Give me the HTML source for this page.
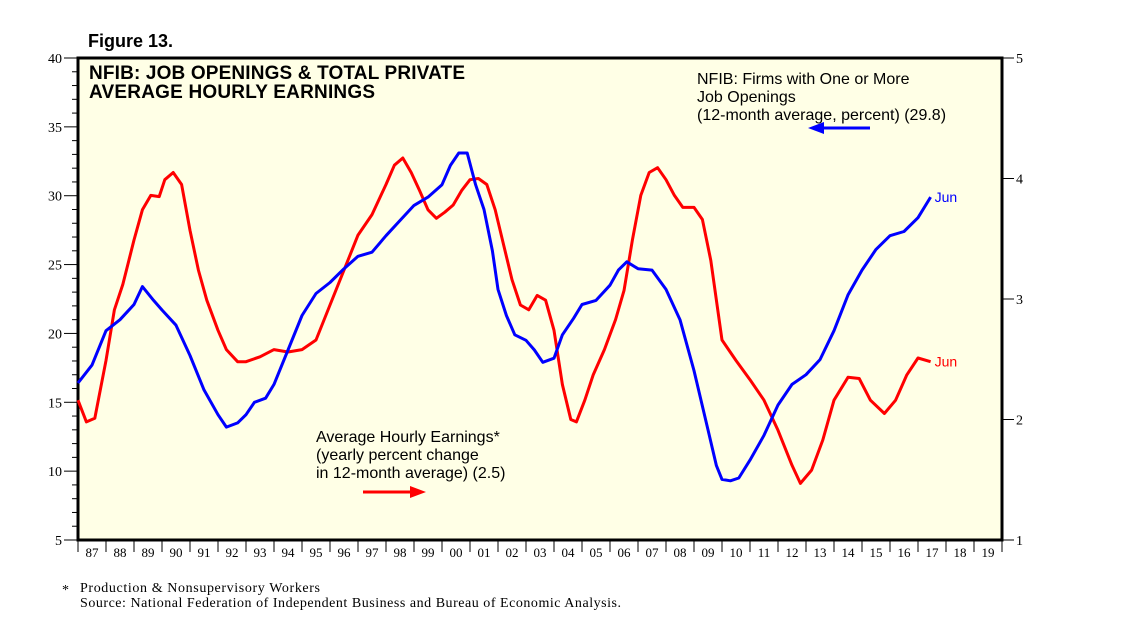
<!DOCTYPE html>
<html><head><meta charset="utf-8"><style>
body{margin:0;background:#fff;}
svg{display:block;}
text{font-family:"Liberation Serif",serif;}
.sans{font-family:"Liberation Sans",sans-serif;}
</style></head><body>
<svg id="c" width="1138" height="623" xmlns="http://www.w3.org/2000/svg"></svg>
<script>
const blueYears=[1987,1987.5,1988,1988.5,1989,1989.3,1989.7,1990,1990.5,1991,1991.5,1992,1992.3,1992.7,1993,1993.3,1993.7,1994,1994.5,1995,1995.5,1996,1996.5,1997,1997.5,1998,1998.5,1999,1999.5,2000,2000.3,2000.6,2000.9,2001.2,2001.5,2001.8,2002,2002.3,2002.6,2003,2003.3,2003.6,2004,2004.3,2004.7,2005,2005.5,2006,2006.3,2006.6,2007,2007.5,2008,2008.5,2009,2009.5,2009.8,2010,2010.3,2010.6,2011,2011.5,2012,2012.5,2013,2013.5,2014,2014.5,2015,2015.5,2016,2016.5,2017,2017.45];
const blueValues=[16.4,17.7,20.2,21,22.1,23.4,22.4,21.7,20.6,18.4,15.9,14.1,13.2,13.5,14.1,15,15.3,16.3,18.8,21.3,22.9,23.7,24.7,25.6,25.9,27.1,28.2,29.3,29.9,30.8,32.2,33.1,33.1,30.8,29,26,23.2,21.3,19.9,19.5,18.8,17.9,18.2,19.9,21.1,22.1,22.4,23.5,24.6,25.2,24.7,24.6,23.2,21,17.3,13,10.4,9.4,9.3,9.5,10.8,12.6,14.8,16.3,17,18.1,20.2,22.8,24.6,26.1,27.1,27.4,28.4,29.9];
const redYears=[1987,1987.3,1987.6,1988,1988.3,1988.6,1989,1989.3,1989.6,1989.9,1990.1,1990.4,1990.7,1991,1991.3,1991.6,1992,1992.3,1992.7,1993,1993.5,1994,1994.5,1995,1995.5,1996,1996.5,1997,1997.5,1998,1998.3,1998.6,1998.9,1999.2,1999.5,1999.8,2000.1,2000.4,2000.7,2001,2001.3,2001.6,2001.9,2002.2,2002.5,2002.8,2003.1,2003.4,2003.7,2004,2004.3,2004.6,2004.8,2005.1,2005.4,2005.8,2006.2,2006.5,2006.8,2007.1,2007.4,2007.7,2008,2008.3,2008.6,2009,2009.3,2009.6,2010,2010.5,2011,2011.5,2012,2012.5,2012.8,2013.2,2013.6,2014,2014.5,2014.9,2015.3,2015.8,2016.2,2016.6,2017,2017.45];
const redValues=[2.16,1.98,2.01,2.49,2.91,3.12,3.49,3.74,3.86,3.85,3.99,4.05,3.95,3.57,3.24,2.99,2.74,2.58,2.48,2.48,2.52,2.58,2.56,2.58,2.66,2.95,3.24,3.53,3.7,3.95,4.11,4.17,4.05,3.9,3.74,3.67,3.72,3.78,3.9,3.99,4.0,3.95,3.74,3.45,3.16,2.95,2.91,3.03,2.99,2.74,2.29,2.0,1.98,2.16,2.37,2.58,2.83,3.07,3.49,3.86,4.05,4.09,3.99,3.86,3.76,3.76,3.66,3.32,2.66,2.49,2.33,2.16,1.91,1.62,1.47,1.58,1.83,2.16,2.35,2.34,2.16,2.05,2.16,2.37,2.51,2.48];
const leftTicks=[5,10,15,20,25,30,35,40];
const rightTicks=[1,2,3,4,5];
const yearLabels=["87","88","89","90","91","92","93","94","95","96","97","98","99","00","01","02","03","04","05","06","07","08","09","10","11","12","13","14","15","16","17","18","19"];

const L=78,R=1002,T=58,B=540;
const x=yr=>L+(yr-1987)*(R-L)/33;
const yl=v=>B-(v-5)*(B-T)/35;
const yr=v=>B-(v-1)*(B-T)/4;
const svg=document.getElementById('c');
const NS='http://www.w3.org/2000/svg';
function mk(tag,attrs,txt){const e=document.createElementNS(NS,tag);for(const k in attrs)e.setAttribute(k,attrs[k]);if(txt!==undefined)e.textContent=txt;svg.appendChild(e);return e;}

let e=mk('rect',{x:L,y:T,width:R-L,height:B-T,fill:'#ffffe6',stroke:'#000','stroke-width':3});


for(let v=5;v<=40;v++){const yy=yl(v);e=mk('line',{x1:leftTicks.includes(v)?L-14:L-6,x2:L,y1:yy,y2:yy,stroke:'#000','stroke-width':1});
}
leftTicks.forEach(v=>{e=mk('text',{x:L-16,y:yl(v)+5,'text-anchor':'end','font-size':14},String(v));
});
rightTicks.forEach(v=>{mk('line',{x1:R,x2:R+12,y1:yr(v),y2:yr(v),stroke:'#000'});
e=mk('text',{x:R+14,y:yr(v)+5,'font-size':14},String(v));
});
for(let i=0;i<=33;i++){mk('line',{x1:x(1987+i),x2:x(1987+i),y1:B,y2:B+12,stroke:'#000'});}
yearLabels.forEach((s,i)=>{e=mk('text',{x:x(1987.5+i),y:B+17,'text-anchor':'middle','font-size':13},s);
});

function path(xs,vs,f,col,name){let d='';xs.forEach((t,i)=>{d+=(i?'L':'M')+x(t).toFixed(1)+','+f(vs[i]).toFixed(1);});
const p=mk('path',{d:d,fill:'none',stroke:col,'stroke-width':3,'stroke-linejoin':'round'});
}
path(redYears,redValues,yr,'#f00','earnings-line');
path(blueYears,blueValues,yl,'#00f','job-openings-line');

e=mk('text',{x:x(blueYears[blueYears.length-1])+4,y:yl(blueValues[blueValues.length-1])+5,fill:'#00f','font-size':14,class:'sans'},'Jun');

e=mk('text',{x:x(redYears[redYears.length-1])+4,y:yr(redValues[redValues.length-1])+5,fill:'#f00','font-size':14,class:'sans'},'Jun');


function t(xx,yy,s,name,attrs){const a=Object.assign({x:xx,y:yy,class:'sans'},attrs||{});const el=mk('text',a,s);}
t(88,47,'Figure 13.','figure-label',{'font-size':18,'font-weight':'bold'});
t(89,79,'NFIB: JOB OPENINGS & TOTAL PRIVATE','chart-title',{'font-size':19,'font-weight':'bold','textLength':376});
t(89,98,'AVERAGE HOURLY EARNINGS','chart-title-2',{'font-size':19,'font-weight':'bold','textLength':286});
t(697,84,'NFIB: Firms with One or More','blue-legend',{'font-size':16});
t(697,102,'Job Openings','blue-legend-2',{'font-size':16});
t(697,120,'(12-month average, percent) (29.8)','blue-legend-3',{'font-size':16});
t(316,442,'Average Hourly Earnings*','red-legend',{'font-size':16});
t(316,460,'(yearly percent change','red-legend-2',{'font-size':16});
t(316,478,'in 12-month average) (2.5)','red-legend-3',{'font-size':16});
mk('line',{x1:870,x2:822,y1:128,y2:128,stroke:'#00f','stroke-width':3});
mk('polygon',{points:'808,128 824,122 824,134',fill:'#00f'});
mk('line',{x1:363,x2:412,y1:492,y2:492,stroke:'#f00','stroke-width':3});
mk('polygon',{points:'426,492 410,486 410,498',fill:'#f00'});
t(62,594,'*','footnote-star',{'font-size':14,class:''});
t(80,592,'Production & Nonsupervisory Workers','footnote',{'font-size':14,class:'','textLength':240});
t(80,607,'Source: National Federation of Independent Business and Bureau of Economic Analysis.','source',{'font-size':14,class:'','textLength':541});
</script>
</body></html>
